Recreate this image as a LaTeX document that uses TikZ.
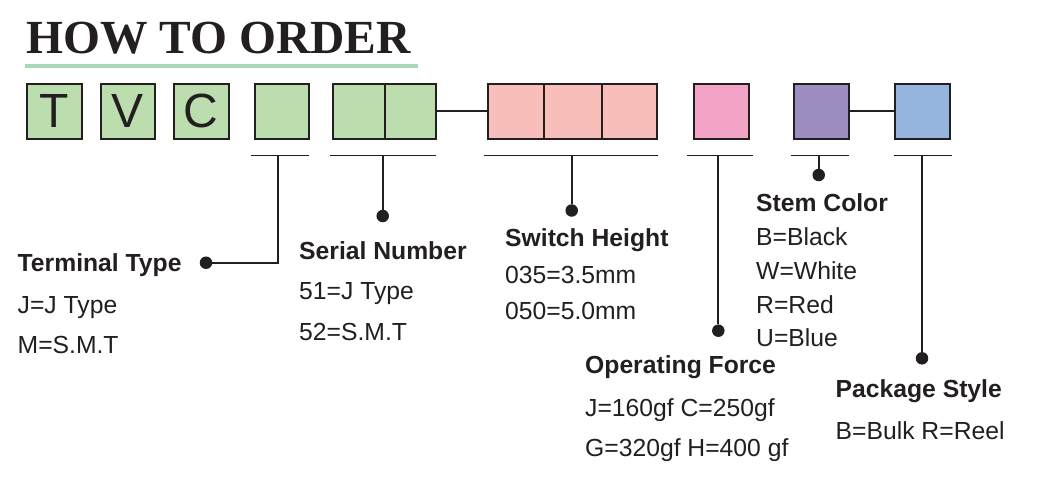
\documentclass[tikz,border=0pt]{standalone}
\usepackage{fontspec}
\setmainfont{Liberation Sans}
\newfontfamily\titlefont{Liberation Serif}
\definecolor{ink}{HTML}{231F20}
\definecolor{cg}{HTML}{BCDEAF}
\definecolor{cp}{HTML}{F8BEBA}
\definecolor{cm}{HTML}{F2A3C6}
\definecolor{cv}{HTML}{9D8EC2}
\definecolor{cb}{HTML}{95B5DF}
\definecolor{uline}{HTML}{A8D8B8}
\begin{document}
\begin{tikzpicture}[x=1pt,y=-1pt,
  box/.style={draw=ink, line width=2.2pt, minimum height=55pt, inner sep=0pt, anchor=north west,
              font=\fontsize{48}{48}\selectfont, text=ink},
  bar/.style={draw=ink, line width=1.9pt},
  dot/.style={circle, fill=ink, inner sep=0pt, minimum size=12.5pt},
  head/.style={anchor=base west, inner sep=0pt, font=\bfseries\fontsize{24.7}{28}\selectfont, text=ink},
  item/.style={anchor=base west, inner sep=0pt, font=\fontsize{24.7}{28}\selectfont, text=ink}]
\useasboundingbox[fill=white] (0,0) rectangle (1039,477);

% title
\node[anchor=base west, inner sep=0pt, text=ink, font=\titlefont\bfseries\fontsize{47.5}{50}\selectfont] (title) at (26,53) {HOW TO ORDER};
\coordinate (ulL) at (25,66);
\coordinate (ulR) at (418,66);
\draw[uline, line width=4pt] (ulL) -- (ulR);

% boxes
\node[box, fill=cg, minimum width=55pt] (bT) at (25.5,82.5) {T};
\node[box, fill=cg, minimum width=54pt] (bV) at (99.5,82.5) {V};
\node[box, fill=cg, minimum width=55pt] (bC) at (172.5,82.5) {C};
\node[box, fill=cg, minimum width=54pt] (bTT) at (253.5,82.5) {};
\node[box, fill=cg, minimum width=52.5pt] (bS1) at (331.5,82.5) {};
\node[box, fill=cg, minimum width=50.5pt] (bS2) at (384,82.5) {};
\node[box, fill=cp, minimum width=55.6pt] (bH1) at (487.2,82.5) {};
\node[box, fill=cp, minimum width=58.4pt] (bH2) at (542.8,82.5) {};
\node[box, fill=cp, minimum width=55pt] (bH3) at (601.2,82.5) {};
\node[box, fill=cm, minimum width=54.6pt] (bF) at (693.2,82.5) {};
\node[box, fill=cv, minimum width=55.3pt] (bK) at (792.5,82.5) {};
\node[box, fill=cb, minimum width=54.7pt] (bP) at (893.8,82.5) {};
\draw[bar] (bS2.east) -- (bH1.west);
\draw[bar] (bK.east) -- (bP.west);

% dots
\node[dot] (dT) at (206,262.7) {};
\node[dot] (dS) at (382.7,216) {};
\node[dot] (dH) at (571.7,210.5) {};
\node[dot] (dF) at (718.3,330.7) {};
\node[dot] (dK) at (818.7,175) {};
\node[dot] (dP) at (922,358.3) {};

% brackets
\coordinate (tL) at (251,155.5);   \coordinate (tR) at (309.3,155.5); \coordinate (tM) at (278.3,155.5);
\coordinate (sL) at (330,155.5);   \coordinate (sR) at (436,155.5);   \coordinate (sM) at (382.7,155.5);
\coordinate (hL) at (484,155.5);   \coordinate (hR) at (657.7,155.5); \coordinate (hM) at (571.7,155.5);
\coordinate (fL) at (687.3,155.5); \coordinate (fR) at (753.3,155.5); \coordinate (fM) at (718.3,155.5);
\coordinate (kL) at (790.7,155.5); \coordinate (kR) at (849,155.5);   \coordinate (kM) at (818.7,155.5);
\coordinate (pL) at (894,155.5);   \coordinate (pR) at (952.3,155.5); \coordinate (pM) at (922,155.5);
\draw[bar] (tL) -- (tR);  \draw[bar] (tM) |- (dT);
\draw[bar] (sL) -- (sR);  \draw[bar] (sM) -- (dS);
\draw[bar] (hL) -- (hR);  \draw[bar] (hM) -- (dH);
\draw[bar] (fL) -- (fR);  \draw[bar] (fM) -- (dF);
\draw[bar] (kL) -- (kR);  \draw[bar] (kM) -- (dK);
\draw[bar] (pL) -- (pR);  \draw[bar] (pM) -- (dP);

% labels
\node[head] (lT) at (17.5,271.7) {Terminal Type};
\node[item] (lT1) at (17.5,313.3) {J=J Type};
\node[item] (lT2) at (17.5,353.3) {M=S.M.T};

\node[head] (lS) at (299,259.3) {Serial Number};
\node[item] (lS1) at (299,299.3) {51=J Type};
\node[item] (lS2) at (299,340) {52=S.M.T};

\node[head] (lH) at (505,246.7) {Switch Height};
\node[item] (lH1) at (505,283.3) {035=3.5mm};
\node[item] (lH2) at (505,319.3) {050=5.0mm};

\node[head] (lK) at (756,211.7) {Stem Color};
\node[item] (lK1) at (756,245) {B=Black};
\node[item] (lK2) at (756,279.3) {W=White};
\node[item] (lK3) at (756,313.3) {R=Red};
\node[item] (lK4) at (756,346.7) {U=Blue};

\node[head] (lF) at (585,373.3) {Operating Force};
\node[item] (lF1) at (585,416) {J=160gf C=250gf};
\node[item] (lF2) at (585,456.7) {G=320gf H=400 gf};

\node[head] (lP) at (835.5,397.3) {Package Style};
\node[item] (lP1) at (835.5,439.3) {B=Bulk R=Reel};
\end{tikzpicture}
\end{document}
